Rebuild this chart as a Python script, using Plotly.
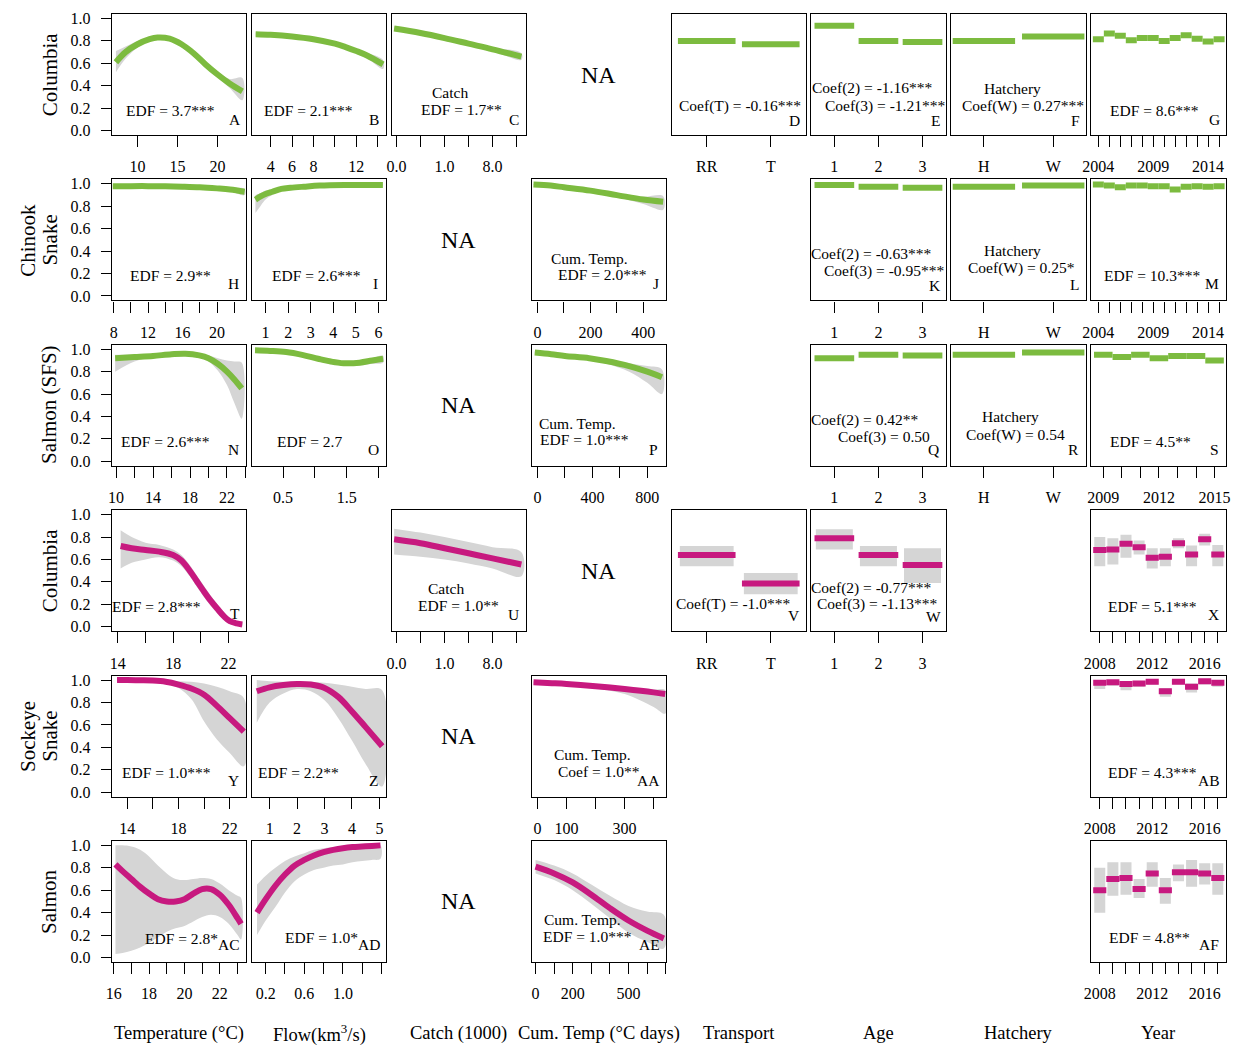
import plotly.graph_objects as go

# ---------------- data ----------------
# Row 1: Chinook, Columbia (green)
A_x = [7.3, 8.5, 10, 11.5, 12.5, 14, 15.5, 17, 18.5, 20, 21.5, 23.1]
A_fit = [0.61, 0.70, 0.77, 0.815, 0.83, 0.82, 0.77, 0.69, 0.59, 0.50, 0.42, 0.35]
A_lo = [0.52, 0.64, 0.74, 0.80, 0.815, 0.805, 0.755, 0.675, 0.575, 0.475, 0.38, 0.27]
A_hi = [0.71, 0.75, 0.80, 0.83, 0.845, 0.835, 0.785, 0.705, 0.61, 0.53, 0.46, 0.47]
B_x = [2.6, 4, 6, 8, 10, 11, 12, 13, 14.5]
B_fit = [0.86, 0.855, 0.84, 0.815, 0.775, 0.745, 0.71, 0.67, 0.59]
B_lo = [0.845, 0.845, 0.83, 0.805, 0.765, 0.73, 0.69, 0.645, 0.55]
B_hi = [0.875, 0.865, 0.85, 0.825, 0.785, 0.76, 0.73, 0.695, 0.63]
C_x = [-0.1, 1, 2, 3, 4, 5.2]
C_fit = [0.91, 0.87, 0.825, 0.775, 0.725, 0.66]
C_lo = [0.89, 0.86, 0.815, 0.765, 0.71, 0.63]
C_hi = [0.93, 0.88, 0.835, 0.785, 0.74, 0.69]
D_fit = [0.80, 0.77]
D_lo = [0.795, 0.76]
D_hi = [0.805, 0.78]
E_fit = [0.935, 0.80, 0.79]
E_lo = [0.93, 0.795, 0.775]
E_hi = [0.94, 0.805, 0.80]
F_fit = [0.80, 0.84]
F_lo = [0.795, 0.835]
F_hi = [0.805, 0.845]
G_fit = [0.815, 0.865, 0.845, 0.805, 0.825, 0.825, 0.80, 0.825, 0.85, 0.82, 0.795, 0.815]
G_lo = [0.803, 0.853, 0.833, 0.793, 0.813, 0.813, 0.788, 0.813, 0.838, 0.808, 0.783, 0.803]
G_hi = [0.825, 0.875, 0.855, 0.815, 0.835, 0.835, 0.81, 0.835, 0.86, 0.83, 0.805, 0.825]

# Row 2: Chinook, Snake (green)
H_x = [7.9, 10, 12, 14, 16, 18, 20, 21.5, 23.2]
H_fit = [0.98, 0.98, 0.98, 0.978, 0.975, 0.97, 0.96, 0.95, 0.93]
H_lo = [0.97, 0.972, 0.973, 0.972, 0.968, 0.962, 0.95, 0.935, 0.90]
H_hi = [0.99, 0.988, 0.987, 0.985, 0.982, 0.978, 0.97, 0.963, 0.955]
I_x = [0.55, 0.8, 1.0, 1.3, 1.7, 2.1, 2.7, 3.4, 4.5, 6.2]
I_fit = [0.86, 0.89, 0.91, 0.93, 0.955, 0.965, 0.975, 0.985, 0.99, 0.99]
I_lo = [0.74, 0.81, 0.86, 0.90, 0.94, 0.955, 0.968, 0.98, 0.985, 0.985]
I_hi = [0.90, 0.92, 0.94, 0.95, 0.965, 0.975, 0.982, 0.99, 0.995, 0.995]
J_x = [-15, 50, 100, 200, 300, 400, 475]
J_fit = [0.995, 0.985, 0.97, 0.94, 0.90, 0.86, 0.84]
J_lo = [0.99, 0.98, 0.965, 0.93, 0.88, 0.82, 0.77]
J_hi = [1.0, 0.99, 0.975, 0.95, 0.91, 0.885, 0.89]
K_fit = [0.99, 0.975, 0.965]
L_fit = [0.975, 0.985]
M_fit = [0.995, 0.985, 0.97, 0.985, 0.985, 0.98, 0.98, 0.95, 0.975, 0.98, 0.975, 0.98]

# Row 3: Chinook, Salmon (SFS) (green)
N_x = [9.9, 12, 14, 16, 17.5, 19, 20, 21, 22, 22.8, 23.6]
N_fit = [0.92, 0.93, 0.94, 0.955, 0.96, 0.945, 0.92, 0.87, 0.80, 0.73, 0.65]
N_lo = [0.80, 0.89, 0.93, 0.945, 0.95, 0.93, 0.89, 0.81, 0.68, 0.52, 0.38]
N_hi = [0.95, 0.95, 0.955, 0.965, 0.97, 0.96, 0.945, 0.92, 0.90, 0.89, 0.88]
O_x = [0.06, 0.3, 0.55, 0.8, 1.05, 1.25, 1.45, 1.7, 1.9, 2.07]
O_fit = [0.99, 0.985, 0.975, 0.95, 0.915, 0.89, 0.875, 0.88, 0.90, 0.915]
O_lo = [0.975, 0.97, 0.96, 0.935, 0.895, 0.865, 0.85, 0.855, 0.87, 0.88]
O_hi = [1.0, 0.995, 0.99, 0.965, 0.93, 0.905, 0.89, 0.9, 0.92, 0.94]
P_x = [-20, 100, 200, 377, 500, 668, 800, 907]
P_fit = [0.97, 0.955, 0.94, 0.92, 0.895, 0.85, 0.80, 0.75]
P_lo = [0.96, 0.95, 0.93, 0.905, 0.87, 0.80, 0.70, 0.60]
P_hi = [0.98, 0.965, 0.95, 0.93, 0.91, 0.875, 0.85, 0.82]
Q_fit = [0.92, 0.95, 0.945]
R_fit = [0.95, 0.97]
S_fit = [0.95, 0.93, 0.95, 0.92, 0.94, 0.94, 0.90]

# Row 4: Sockeye, Columbia (magenta)
T_x = [14.2, 15, 16, 17, 18, 18.6, 19.2, 19.7, 20.2, 20.7, 21.2, 21.7, 22.1, 22.6, 23.0]
T_fit = [0.72, 0.70, 0.685, 0.67, 0.64, 0.59, 0.50, 0.41, 0.32, 0.235, 0.16, 0.09, 0.05, 0.03, 0.02]
T_lo = [0.52, 0.57, 0.60, 0.62, 0.59, 0.54, 0.45, 0.36, 0.27, 0.19, 0.12, 0.06, 0.025, 0.01, 0.0]
T_hi = [0.86, 0.80, 0.75, 0.73, 0.69, 0.64, 0.55, 0.46, 0.37, 0.28, 0.20, 0.13, 0.08, 0.05, 0.04]
U_x = [-0.1, 1, 2, 3, 4, 5.2]
U_fit = [0.78, 0.745, 0.70, 0.655, 0.61, 0.555]
U_lo = [0.645, 0.625, 0.60, 0.565, 0.52, 0.45]
U_hi = [0.875, 0.84, 0.80, 0.755, 0.71, 0.665]
V_fit = [0.64, 0.385]
V_lo = [0.54, 0.29]
V_hi = [0.72, 0.48]
W_fit = [0.79, 0.64, 0.55]
W_lo = [0.69, 0.54, 0.39]
W_hi = [0.87, 0.72, 0.70]
X_fit = [0.685, 0.69, 0.74, 0.71, 0.615, 0.625, 0.745, 0.645, 0.78, 0.645]
X_lo = [0.54, 0.555, 0.615, 0.645, 0.52, 0.54, 0.70, 0.54, 0.725, 0.54]
X_hi = [0.80, 0.79, 0.82, 0.77, 0.70, 0.70, 0.79, 0.725, 0.83, 0.73]

# Row 5: Sockeye, Snake (magenta)
Y_x = [13.2, 14, 15, 16, 17, 18, 19, 20, 21, 22, 23.1]
Y_fit = [1.0, 1.0, 0.998, 0.995, 0.985, 0.96, 0.925, 0.87, 0.77, 0.66, 0.54]
Y_lo = [0.99, 0.99, 0.99, 0.985, 0.97, 0.93, 0.83, 0.63, 0.47, 0.35, 0.23]
Y_hi = [1.0, 1.0, 1.0, 1.0, 1.0, 0.99, 0.985, 0.97, 0.94, 0.90, 0.84]
Z_x = [0.53, 1.0, 1.5, 2.0, 2.5, 3.0, 3.5, 4.0, 4.5, 5.1]
Z_fit = [0.90, 0.935, 0.955, 0.965, 0.96, 0.93, 0.85, 0.72, 0.58, 0.41]
Z_lo = [0.62, 0.80, 0.88, 0.92, 0.90, 0.82, 0.66, 0.46, 0.25, 0.05]
Z_hi = [1.0, 0.99, 0.985, 0.985, 0.985, 0.975, 0.96, 0.94, 0.92, 0.91]
AA_x = [-14, 50, 100, 200, 300, 400, 440]
AA_fit = [0.98, 0.972, 0.965, 0.945, 0.92, 0.89, 0.875]
AA_lo = [0.97, 0.965, 0.955, 0.925, 0.875, 0.76, 0.70]
AA_hi = [0.99, 0.98, 0.975, 0.96, 0.94, 0.915, 0.91]
AB_fit = [0.975, 0.98, 0.965, 0.97, 0.985, 0.90, 0.985, 0.94, 0.99, 0.975]
AB_lo = [0.92, 0.95, 0.91, 0.94, 0.96, 0.85, 0.96, 0.89, 0.96, 0.94]
AB_hi = [0.99, 0.995, 0.99, 0.99, 1.0, 0.93, 1.0, 0.97, 1.0, 0.99]

# Row 6: Sockeye, Salmon (magenta)
AC_x = [16.1, 16.5, 17, 17.5, 18, 18.5, 19, 19.5, 20, 20.5, 21, 21.5, 22, 22.5, 23, 23.2]
AC_fit = [0.83, 0.77, 0.70, 0.63, 0.57, 0.52, 0.50, 0.50, 0.52, 0.57, 0.61, 0.61, 0.56, 0.47, 0.35, 0.30]
AC_lo = [0.03, 0.04, 0.06, 0.09, 0.13, 0.18, 0.23, 0.26, 0.28, 0.32, 0.36, 0.38, 0.36, 0.30, 0.20, 0.16]
AC_hi = [1.0, 1.0, 0.99, 0.96, 0.90, 0.82, 0.75, 0.70, 0.69, 0.70, 0.71, 0.70, 0.66, 0.60, 0.55, 0.53]
AD_x = [0.11, 0.2, 0.3, 0.4, 0.5, 0.6, 0.7, 0.8, 0.9, 1.0, 1.1, 1.2, 1.3, 1.39]
AD_fit = [0.40, 0.52, 0.64, 0.74, 0.82, 0.87, 0.91, 0.94, 0.96, 0.975, 0.985, 0.99, 0.995, 1.0]
AD_lo = [0.20, 0.33, 0.45, 0.58, 0.68, 0.74, 0.78, 0.80, 0.82, 0.83, 0.85, 0.86, 0.87, 0.88]
AD_hi = [0.65, 0.73, 0.80, 0.86, 0.90, 0.93, 0.96, 0.975, 0.985, 0.99, 0.995, 1.0, 1.0, 1.0]
AE_x = [0, 100, 200, 300, 400, 500, 600, 690]
AE_fit = [0.81, 0.75, 0.67, 0.56, 0.44, 0.33, 0.24, 0.17]
AE_lo = [0.75, 0.69, 0.60, 0.48, 0.35, 0.22, 0.14, 0.08]
AE_hi = [0.87, 0.82, 0.75, 0.65, 0.55, 0.46, 0.41, 0.38]
AF_fit = [0.60, 0.70, 0.71, 0.61, 0.75, 0.60, 0.76, 0.76, 0.75, 0.71]
AF_lo = [0.40, 0.55, 0.56, 0.53, 0.63, 0.48, 0.68, 0.63, 0.65, 0.56]
AF_hi = [0.80, 0.85, 0.85, 0.70, 0.85, 0.71, 0.83, 0.87, 0.84, 0.84]

# tick labels ("" = tick without a label)
TRANSPORT = ["RR", "T"]
AGE = ["1", "2", "3"]
HATCH = ["H", "W"]
YEARS_04 = ["2004", "", "", "", "", "2009", "", "", "", "", "2014", ""]
YEARS_09 = ["2009", "", "", "2012", "", "", "2015"]
YEARS_08 = ["2008", "", "", "", "2012", "", "", "", "2016", ""]
CATCH_TICKS = [0, 1, 2, 3, 4, 5]
CATCH_LABELS = ["0.0", "", "1.0", "", "8.0", ""]
Y_TICKS = [0, 0.2, 0.4, 0.6, 0.8, 1.0]
Y_LABELS = ["0.0", "0.2", "0.4", "0.6", "0.8", "1.0"]

ROW_NAMES = ["Columbia", "Snake", "Salmon (SFS)", "Columbia", "Snake", "Salmon"]
SPECIES = {1: "Chinook", 4: "Sockeye"}
COL_NAMES = ["Temperature (°C)", "Flow(km<sup>3</sup>/s)", "Catch (1000)", "Cum. Temp (°C days)",
             "Transport", "Age", "Hatchery", "Year"]

# ---------------- layout helpers ----------------
# the page body has an 8px margin, so the figure is drawn 8px smaller and
# every target pixel position is shifted by that margin
OFF = 8
W, H = 1247 - OFF, 1051 - OFF
COL_LEFT = [104, 245.5, 387, 528.5, 670, 811.5, 953, 1094.5]
ROW_TOP = [10, 176.7, 343.3, 510, 676.7, 843.3]
PW, PH = 136, 122
GREEN = "#7cbb3f"
MAGENTA = "#c7197f"
BAND = "#d5d5d5"
FONT = "Liberation Serif"


def px_x(px):
    return (px - OFF) / W


def px_y(py):
    return 1 - (py - OFF) / H


fig = go.Figure()
layout = {}
annotations = []
counter = [0]


def new_axes(row, col, xrange, tickvals, ticktext):
    counter[0] += 1
    k = counter[0]
    sfx = "" if k == 1 else str(k)
    x0 = px_x(COL_LEFT[col])
    x1 = px_x(COL_LEFT[col] + PW)
    y1 = px_y(ROW_TOP[row])
    y0 = px_y(ROW_TOP[row] + PH)
    major_v = [v for v, t in zip(tickvals, ticktext) if t != ""]
    major_t = [t for t in ticktext if t != ""]
    minor_v = [v for v, t in zip(tickvals, ticktext) if t == ""]
    xa = dict(
        domain=[x0, x1], anchor="y" + sfx, range=xrange,
        tickmode="array", tickvals=major_v, ticktext=major_t,
        ticks="outside", ticklen=11, tickwidth=1.3, tickcolor="black",
        showline=True, mirror=True, linecolor="black", linewidth=1.3,
        showgrid=False, zeroline=False, ticklabelstandoff=6,
        tickfont=dict(family=FONT, size=16, color="black"),
    )
    if minor_v:
        xa["minor"] = dict(tickmode="array", tickvals=minor_v, ticks="outside", ticklen=11,
                           tickwidth=1.3, tickcolor="black", showgrid=False)
    layout["xaxis" + sfx] = xa
    show_y = col == 0
    layout["yaxis" + sfx] = dict(
        domain=[y0, y1], anchor="x" + sfx, range=[-0.04, 1.04],
        tickmode="array", tickvals=Y_TICKS, ticktext=Y_LABELS,
        ticks="outside" if show_y else "", ticklen=10, tickwidth=1.3, tickcolor="black",
        showticklabels=show_y, ticklabelstandoff=7,
        showline=True, mirror=True, linecolor="black", linewidth=1.3,
        showgrid=False, zeroline=False,
        tickfont=dict(family=FONT, size=16, color="black"),
    )
    return "x" + sfx, "y" + sfx


def smooth_panel(row, col, x, fit, lo, hi, color, xrange, tickvals, ticktext):
    xa, ya = new_axes(row, col, xrange, tickvals, ticktext)
    fig.add_trace(go.Scatter(x=list(x) + list(x)[::-1], y=list(hi) + list(lo)[::-1],
                             fill="toself", fillcolor=BAND, line=dict(width=0, shape="spline"),
                             mode="lines", hoverinfo="skip", xaxis=xa, yaxis=ya))
    fig.add_trace(go.Scatter(x=x, y=fit, mode="lines",
                             line=dict(color=color, width=6, shape="spline"),
                             xaxis=xa, yaxis=ya))


def factor_panel(row, col, fit, lo, hi, color, ticktext, xrange):
    n = len(fit)
    levels = list(range(1, n + 1))
    xa, ya = new_axes(row, col, xrange, levels, ticktext)
    bx, by, lx, ly = [], [], [], []
    half = 0.5 if n > 4 else 0.45
    bhalf = 0.42
    for j, f in zip(levels, fit):
        lx += [j - half, j + half, None]
        ly += [f, f, None]
    if lo is not None:
        for j, a, b in zip(levels, lo, hi):
            bx += [j - bhalf, j + bhalf, j + bhalf, j - bhalf, j - bhalf, None]
            by += [a, a, b, b, a, None]
        fig.add_trace(go.Scatter(x=bx, y=by, fill="toself", fillcolor=BAND, mode="lines",
                                 line=dict(width=0), hoverinfo="skip", xaxis=xa, yaxis=ya))
    fig.add_trace(go.Scatter(x=lx, y=ly, mode="lines", line=dict(color=color, width=6),
                             connectgaps=False, xaxis=xa, yaxis=ya))


def yr_range(n):
    return [0.35, n + 0.6]


# Row 1
smooth_panel(0, 0, A_x, A_fit, A_lo, A_hi, GREEN, [6.8, 23.6], [10, 15, 20], ["10", "15", "20"])
smooth_panel(0, 1, B_x, B_fit, B_lo, B_hi, GREEN, [2.24, 14.8], [4, 6, 8, 10, 12, 14],
             ["4", "6", "8", "", "12", ""])
smooth_panel(0, 2, C_x, C_fit, C_lo, C_hi, GREEN, [-0.2, 5.4], CATCH_TICKS, CATCH_LABELS)
factor_panel(0, 4, D_fit, D_lo, D_hi, GREEN, TRANSPORT, [0.45, 2.55])
factor_panel(0, 5, E_fit, E_lo, E_hi, GREEN, AGE, [0.48, 3.53])
factor_panel(0, 6, F_fit, F_lo, F_hi, GREEN, HATCH, [0.53, 2.47])
factor_panel(0, 7, G_fit, G_lo, G_hi, GREEN, YEARS_04, yr_range(12))
# Row 2
smooth_panel(1, 0, H_x, H_fit, H_lo, H_hi, GREEN, [7.8, 23.4], [8, 10, 12, 14, 16, 18, 20, 22],
             ["8", "", "12", "", "16", "", "20", ""])
smooth_panel(1, 1, I_x, I_fit, I_lo, I_hi, GREEN, [0.39, 6.35], [1, 2, 3, 4, 5, 6],
             ["1", "2", "3", "4", "5", "6"])
smooth_panel(1, 3, J_x, J_fit, J_lo, J_hi, GREEN, [-22, 486], [0, 100, 200, 300, 400],
             ["0", "", "200", "", "400"])
factor_panel(1, 5, K_fit, None, None, GREEN, AGE, [0.48, 3.53])
factor_panel(1, 6, L_fit, None, None, GREEN, HATCH, [0.53, 2.47])
factor_panel(1, 7, M_fit, None, None, GREEN, YEARS_04, yr_range(12))
# Row 3
smooth_panel(2, 0, N_x, N_fit, N_lo, N_hi, GREEN, [9.55, 24.1], [10, 12, 14, 16, 18, 20, 22, 24],
             ["10", "", "14", "", "18", "", "22", ""])
smooth_panel(2, 1, O_x, O_fit, O_lo, O_hi, GREEN, [0.01, 2.12], [0.5, 1.0, 1.5, 2.0],
             ["0.5", "", "1.5", ""])
smooth_panel(2, 3, P_x, P_fit, P_lo, P_hi, GREEN, [-43, 937], [0, 200, 400, 600, 800],
             ["0", "", "400", "", "800"])
factor_panel(2, 5, Q_fit, None, None, GREEN, AGE, [0.48, 3.53])
factor_panel(2, 6, R_fit, None, None, GREEN, HATCH, [0.53, 2.47])
factor_panel(2, 7, S_fit, None, None, GREEN, YEARS_09, yr_range(7))
# Row 4
smooth_panel(3, 0, T_x, T_fit, T_lo, T_hi, MAGENTA, [13.57, 23.3], [14, 16, 18, 20, 22],
             ["14", "", "18", "", "22"])
smooth_panel(3, 2, U_x, U_fit, U_lo, U_hi, MAGENTA, [-0.2, 5.4], CATCH_TICKS, CATCH_LABELS)
factor_panel(3, 4, V_fit, V_lo, V_hi, MAGENTA, TRANSPORT, [0.45, 2.55])
factor_panel(3, 5, W_fit, W_lo, W_hi, MAGENTA, AGE, [0.48, 3.53])
factor_panel(3, 7, X_fit, X_lo, X_hi, MAGENTA, YEARS_08, yr_range(10))
# Row 5
smooth_panel(4, 0, Y_x, Y_fit, Y_lo, Y_hi, MAGENTA, [12.8, 23.3], [14, 16, 18, 20, 22],
             ["14", "", "18", "", "22"])
smooth_panel(4, 1, Z_x, Z_fit, Z_lo, Z_hi, MAGENTA, [0.35, 5.25], [1, 2, 3, 4, 5],
             ["1", "2", "3", "4", "5"])
smooth_panel(4, 3, AA_x, AA_fit, AA_lo, AA_hi, MAGENTA, [-20.5, 443], [0, 100, 200, 300, 400],
             ["0", "100", "", "300", ""])
factor_panel(4, 7, AB_fit, AB_lo, AB_hi, MAGENTA, YEARS_08, yr_range(10))
# Row 6
smooth_panel(5, 0, AC_x, AC_fit, AC_lo, AC_hi, MAGENTA, [15.9, 23.5],
             [16, 17, 18, 19, 20, 21, 22, 23], ["16", "", "18", "", "20", "", "22", ""])
smooth_panel(5, 1, AD_x, AD_fit, AD_lo, AD_hi, MAGENTA, [0.056, 1.45],
             [0.2, 0.4, 0.6, 0.8, 1.0, 1.2, 1.4], ["0.2", "", "0.6", "", "1.0", "", ""])
smooth_panel(5, 3, AE_x, AE_fit, AE_lo, AE_hi, MAGENTA, [-21, 702],
             [0, 100, 200, 300, 400, 500, 600, 700], ["0", "", "200", "", "", "500", "", ""])
factor_panel(5, 7, AF_fit, AF_lo, AF_hi, MAGENTA, YEARS_08, yr_range(10))


# ---------------- text ----------------
def txt(s, x, y, size=15.5, angle=0, xanchor="center"):
    annotations.append(dict(text=s, x=px_x(x), y=px_y(y), xref="paper", yref="paper",
                            showarrow=False, xanchor=xanchor, yanchor="middle", textangle=angle,
                            font=dict(family=FONT, size=size, color="black")))


PANEL_TEXT = [
    ("EDF = 3.7***", 163, 107), ("A", 228, 116),
    ("EDF = 2.1***", 303, 107), ("B", 369, 116),
    ("Catch", 446, 89), ("EDF = 1.7**", 458, 106), ("C", 511, 116),
    ("Coef(T) = -0.16***", 739, 103), ("D", 794, 117),
    ("Coef(2) = -1.16***", 873, 85), ("Coef(3) = -1.21***", 886, 103), ("E", 937, 117),
    ("Hatchery", 1015, 85), ("Coef(W) = 0.27***", 1026, 103), ("F", 1079, 117),
    ("EDF = 8.6***", 1158, 107), ("G", 1219, 116),
    ("EDF = 2.9**", 163, 274), ("H", 227, 282),
    ("EDF = 2.6***", 311, 274), ("I", 371, 282),
    ("Cum. Temp.", 587, 256), ("EDF = 2.0***", 600, 273), ("J", 654, 282),
    ("Coef(2) = -0.63***", 872, 252), ("Coef(3) = -0.95***", 885, 269), ("K", 936, 284),
    ("Hatchery", 1015, 248), ("Coef(W) = 0.25*", 1024, 266), ("L", 1078, 283),
    ("EDF = 10.3***", 1156, 274), ("M", 1217, 282),
    ("EDF = 2.6***", 158, 441), ("N", 227, 449),
    ("EDF = 2.7", 304, 441), ("O", 369, 449),
    ("Cum. Temp.", 575, 423), ("EDF = 1.0***", 582, 439), ("P", 652, 449),
    ("Coef(2) = 0.42**", 866, 419), ("Coef(3) = 0.50", 885, 436), ("Q", 935, 449),
    ("Hatchery", 1013, 416), ("Coef(W) = 0.54", 1018, 434), ("R", 1077, 449),
    ("EDF = 4.5**", 1154, 441), ("S", 1219, 449),
    ("EDF = 2.8***", 149, 607), ("T", 228, 614),
    ("Catch", 442, 589), ("EDF = 1.0**", 455, 606), ("U", 510, 615),
    ("Coef(T) = -1.0***", 732, 605), ("V", 794, 616),
    ("Coef(2) = -0.77***", 872, 588), ("Coef(3) = -1.13***", 878, 605), ("W", 935, 617),
    ("EDF = 5.1***", 1156, 607), ("X", 1218, 615),
    ("EDF = 1.0***", 159, 774), ("Y", 227, 782),
    ("EDF = 2.2**", 293, 774), ("Z", 369, 782),
    ("Cum. Temp.", 590, 756), ("Coef = 1.0**", 597, 773), ("AA", 647, 782),
    ("EDF = 4.3***", 1156, 774), ("AB", 1214, 782),
    ("EDF = 2.8*", 174, 942), ("AC", 222, 948),
    ("EDF = 1.0*", 316, 941), ("AD", 364, 948),
    ("Cum. Temp.", 580, 923), ("EDF = 1.0***", 585, 940), ("AE", 648, 948),
    ("EDF = 4.8**", 1153, 941), ("AF", 1214, 948),
]
for s, x, y in PANEL_TEXT:
    txt(s, x, y)

# NA markers
NA_CELLS = [(0, 3), (1, 2), (2, 2), (3, 3), (4, 2), (5, 2)]
for r, c in NA_CELLS:
    txt("NA", COL_LEFT[c] + PW / 2, ROW_TOP[r] + PH / 2, size=24)

# Row labels
for r, name in enumerate(ROW_NAMES):
    txt(name, 41, ROW_TOP[r] + PH / 2, size=21, angle=-90)
for r, sp in SPECIES.items():
    txt(sp, 19, ROW_TOP[r] + PH / 2, size=21, angle=-90)

# Column labels
for c, name in enumerate(COL_NAMES):
    txt(name, COL_LEFT[c] + PW / 2, 1037, size=18.5)

layout["annotations"] = annotations
fig.update_layout(**layout)
fig.update_layout(width=W, height=H, margin=dict(l=0, r=0, t=0, b=0),
                  plot_bgcolor="white", paper_bgcolor="white", showlegend=False,
                  font=dict(family=FONT, color="black"))
fig.write_html("out.html")
